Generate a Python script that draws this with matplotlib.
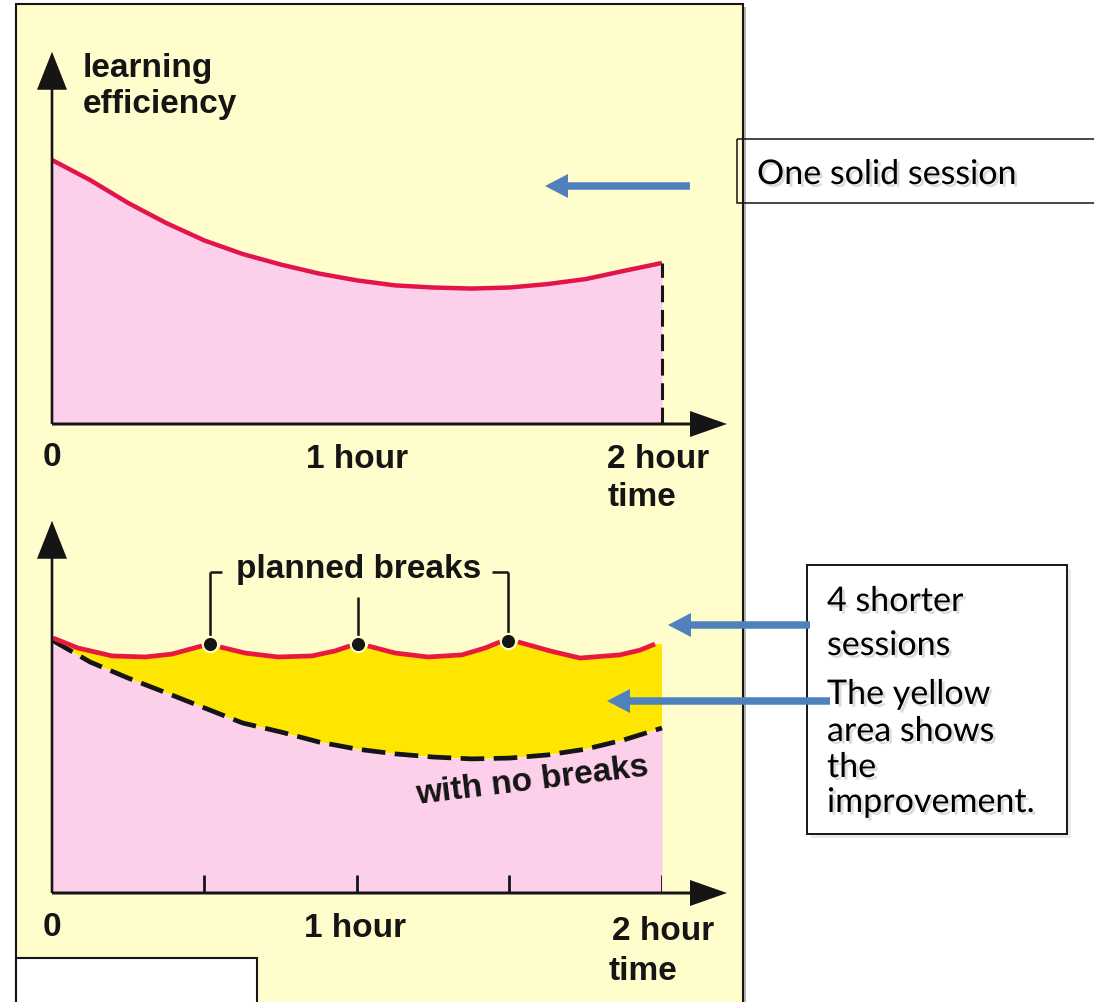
import numpy as np
import matplotlib.pyplot as plt
import matplotlib.patheffects as pe
from matplotlib.patches import Rectangle

W, H = 1094, 1002
plt.rcParams['font.family'] = 'Liberation Sans'

# top chart: one solid session (time in hours, learning efficiency)
t_solid = [0, 0.125, 0.25, 0.375, 0.5, 0.625, 0.75, 0.875, 1.0,
           1.125, 1.25, 1.375, 1.5, 1.625, 1.75, 1.875, 2.0]
eff_solid = [100, 92.4, 83.7, 76.1, 69.5, 64.4, 60.4, 57.0, 54.4,
             52.5, 51.7, 51.3, 51.7, 53.0, 54.9, 58.0, 61.0]

# bottom chart: same curve with no breaks (dashed)
t_nobreak = t_solid
eff_nobreak = [95.8, 87.5, 81.4, 75.8, 70.1, 64.4, 61.0, 57.2, 54.5,
               52.7, 51.5, 50.8, 51.1, 52.3, 54.5, 58.0, 62.5]

# four shorter sessions
sess_t = [[0.003, 0.085, 0.197, 0.305, 0.393, 0.492],
          [0.551, 0.633, 0.741, 0.852, 0.928, 0.977],
          [1.036, 1.125, 1.233, 1.344, 1.420, 1.469],
          [1.528, 1.633, 1.731, 1.862, 1.928, 1.977]]
sess_v = [[96.6, 92.8, 89.8, 89.4, 90.5, 93.6],
          [93.2, 90.9, 89.4, 89.8, 91.7, 93.6],
          [93.6, 90.9, 89.4, 90.2, 92.8, 95.1],
          [95.1, 91.7, 89.0, 90.2, 92.0, 94.3]]
break_t = [0.518, 1.003, 1.495]
break_v = [94.3, 94.3, 95.5]
tick_t = [0.5, 1.0, 1.5, 2.0]

BG = '#FFFDCC'
PINK = '#FCD0EA'
YELLOW = '#FFE600'
RED = '#E3144B'
RED2 = '#E8183F'
INK = '#151515'
BLUE = '#4F81BD'

fig = plt.figure(figsize=(W / 100, H / 100), dpi=100, facecolor='white')

# background layer (pixel coordinates)
bg = fig.add_axes([0, 0, 1, 1], zorder=0)
bg.set_xlim(0, W)
bg.set_ylim(H, 0)
bg.axis('off')
bg.add_patch(Rectangle((19, 7), 727, 1010, fc='#b5b5b5', ec='none'))
bg.add_patch(Rectangle((16, 4), 727, 1010, fc=BG, ec=INK, lw=1.5))

PXH = 305.0   # pixels per hour
PXV = 2.64    # pixels per efficiency unit


def chart_axes(base_y):
    ax = fig.add_axes([52 / W, (H - base_y) / H, 2 * PXH / W, 100 * PXV / H], zorder=2)
    ax.set_xlim(0, 2)
    ax.set_ylim(0, 100)
    ax.patch.set_alpha(0)
    ax.axis('off')
    return ax


def axis_arrows(ax):
    ax.arrow(0, 0, 0, 141, width=2.6 / PXH, head_width=30 / PXH,
             head_length=38 / PXV, length_includes_head=True,
             fc=INK, ec=INK, lw=0, clip_on=False, zorder=6)
    ax.arrow(0, 0, 675 / PXH, 0, width=3.0 / PXV, head_width=26 / PXV,
             head_length=37 / PXH, length_includes_head=True,
             fc=INK, ec=INK, lw=0, clip_on=False, zorder=6)


# ---- top chart
ax1 = chart_axes(424)
ax1.fill_between(t_solid, 0, eff_solid, color=PINK, lw=0, zorder=1)
ax1.plot(t_solid, eff_solid, color=RED, lw=3.2, solid_capstyle='butt',
         solid_joinstyle='round', clip_on=False, zorder=3)
ax1.plot([t_solid[-1], t_solid[-1]], [0, eff_solid[-1]], color=INK, lw=2.2,
         linestyle=(0, (5.5, 2.5)), clip_on=False, zorder=4)
axis_arrows(ax1)

# ---- bottom chart
ax2 = chart_axes(893)
ax2.fill_between(t_nobreak, 0, eff_nobreak, color=PINK, lw=0, zorder=1)
top_t = np.concatenate(sess_t + [[t_nobreak[-1]]])
top_v = np.concatenate(sess_v + [[sess_v[-1][-1]]])
ax2.fill(np.concatenate([top_t, t_nobreak[::-1]]),
         np.concatenate([top_v, eff_nobreak[::-1]]),
         color=YELLOW, lw=0, zorder=2)
ax2.plot(t_nobreak, eff_nobreak, color=INK, lw=3.4, linestyle=(0, (5, 2)),
         clip_on=False, zorder=3)
for st, sv in zip(sess_t, sess_v):
    ax2.plot(st, sv, color=RED2, lw=3.4, solid_capstyle='butt',
             solid_joinstyle='round', clip_on=False, zorder=4)
ax2.vlines(tick_t, 0, 18 / PXV, color=INK, lw=2.0, zorder=5)
# planned breaks bracket
top_lvl = (893 - 572) / PXV
mid_lvl = (893 - 597) / PXV
ax2.vlines([break_t[0], break_t[2]], break_v[0], top_lvl, color=INK, lw=1.8,
           clip_on=False, zorder=5)
ax2.vlines(break_t[1], break_v[1], mid_lvl, color=INK, lw=1.8, clip_on=False, zorder=5)
ax2.hlines([top_lvl, top_lvl], [break_t[0], break_t[2] - 16 / PXH],
           [break_t[0] + 12 / PXH, break_t[2]], color=INK, lw=1.8,
           clip_on=False, zorder=5)
ax2.scatter(break_t, break_v, s=120, color=INK, edgecolor=BG, linewidth=1.5,
            zorder=6, clip_on=False)
axis_arrows(ax2)

# ---- foreground layer: labels, call-out boxes and arrows
fg = fig.add_axes([0, 0, 1, 1], zorder=5)
fg.set_xlim(0, W)
fg.set_ylim(H, 0)
fg.axis('off')
fg.patch.set_alpha(0)

lab = dict(fontsize=24, fontweight='bold', color=INK, va='baseline')
fg.text(83, 77, 'learning', ha='left', **lab)
fg.text(83, 113, 'efficiency', ha='left', **lab)
fg.text(52, 466, '0', ha='center', **lab)
fg.text(357, 468, '1 hour', ha='center', **lab)
fg.text(607, 468, '2 hour', ha='left', **lab)
fg.text(608, 506, 'time', ha='left', **lab)
fg.text(52, 936, '0', ha='center', **lab)
fg.text(355, 937, '1 hour', ha='center', **lab)
fg.text(612, 940, '2 hour', ha='left', **lab)
fg.text(609, 980, 'time', ha='left', **lab)
fg.text(359, 578, 'planned breaks', ha='center', **lab)
fg.text(532, 781, 'with no breaks', fontsize=24, fontweight='bold', color=INK,
        ha='center', va='center', rotation=7, rotation_mode='anchor')

fg.add_patch(Rectangle((16, 958), 241, 60, fc='white', ec=INK, lw=1.5))

# call-out boxes
shadow = [pe.withSimplePatchShadow(offset=(2, -2), shadow_rgbFace='#888888', alpha=0.3)]
fg.add_patch(Rectangle((811, 569), 260, 269, fc='#dddddd', ec='none', alpha=0.6))
fg.add_patch(Rectangle((807, 565), 260, 269, fc='white', ec=INK, lw=1.4))
fg.add_patch(Rectangle((737, 139), 400, 64, fc='none', ec=INK, lw=1.1))

cal = dict(family='Lato', fontsize=24.5, color='black', ha='left', va='baseline',
           path_effects=shadow)
fg.text(757, 184, 'One solid session', **cal)
fg.text(827, 611, '4 shorter', **cal)
fg.text(827, 655, 'sessions', **cal)
fg.text(827, 704, 'The yellow', **cal)
fg.text(827, 741, 'area shows', **cal)
fg.text(827, 777, 'the', **cal)
fg.text(827, 812, 'improvement.', **cal)

for x0, x1, y in [(690, 545, 186), (810, 668, 625), (830, 607, 701)]:
    fg.arrow(x0, y, x1 - x0, 0, width=7.5, head_width=24, head_length=23,
             length_includes_head=True, fc=BLUE, ec=BLUE, lw=0)

fig.savefig('out.png', dpi=100, facecolor='white')
